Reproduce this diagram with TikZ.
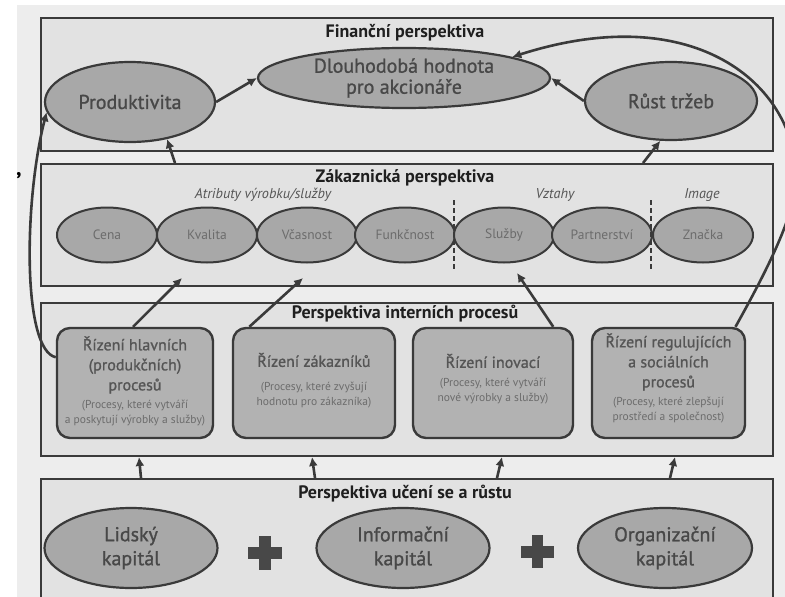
\documentclass[tikz,border=0pt]{standalone}
\usepackage{fontspec}
\setmainfont{PT Sans}
\newfontfamily\heavysans{PT Sans}[FakeBold=1.1]
\usetikzlibrary{arrows.meta,shapes.geometric}

\definecolor{pagebg}{HTML}{EDEDED}
\definecolor{panelbg}{HTML}{E2E2E2}
\definecolor{ink}{HTML}{3A3A3A}
\definecolor{ellfill}{HTML}{A8A8A8}
\definecolor{boxfill}{HTML}{B2B2B2}
\definecolor{txtdark}{HTML}{484848}
\definecolor{txtmid}{HTML}{555555}
\definecolor{txtlight}{HTML}{6C6C6C}

\begin{document}
\begin{tikzpicture}[x=1pt,y=-1pt,
  panel/.style={rectangle, draw=ink, line width=2.2pt, fill=panelbg,
    anchor=north west, inner sep=0pt},
  paneltitle/.style={font=\bfseries\fontsize{18}{20}\selectfont, text=black!88},
  subhead/.style={font=\itshape\fontsize{14.2}{16}\selectfont, text=txtmid},
  bigell/.style={ellipse, draw=ink, line width=2.2pt, fill=ellfill, inner sep=0pt,
    align=center, font=\heavysans\fontsize{20}{21}\selectfont, text=txtdark},
  lgell/.style={bigell, minimum height=80pt, font=\heavysans\fontsize{20}{24}\selectfont},
  smallell/.style={ellipse, draw=ink, line width=2pt, fill=ellfill, inner sep=0pt,
    minimum width=100pt, minimum height=55pt,
    font=\fontsize{13.5}{15}\selectfont, text=txtlight},
  procbox/.style={rectangle, rounded corners=13pt, draw=ink, line width=2.4pt,
    fill=boxfill, minimum height=110pt, inner sep=0pt},
  prochead/.style={align=center, font=\heavysans\fontsize{16}{20}\selectfont, text=txtmid, inner sep=0pt},
  procnote/.style={align=center, font=\fontsize{11.5}{15}\selectfont, text=txtlight, inner sep=0pt},
  flow/.style={draw=ink, line width=2.6pt, -{Latex[length=9pt,width=9pt]}},
  divider/.style={draw=ink, line width=2pt, dash pattern=on 5pt off 3pt},
  plusarm/.style={fill=txtdark, draw=none}
]
\useasboundingbox (0,0) rectangle (785,597);
\clip (0,0) rectangle (785,597);

% sheet
\fill[white] (0,0) rectangle (785,597);
\fill[pagebg] (17,5) rectangle (785,597);
\node[font=\bfseries\fontsize{22}{22}\selectfont, text=black, inner sep=0pt] (mark) at (19,176) {,};

% ---------- four perspective panels ----------
\node[panel, minimum width=732pt, minimum height=133pt] (fin)   at (40,17)  {};
\node[panel, minimum width=732pt, minimum height=122pt] (cust)  at (40,163) {};
\node[panel, minimum width=732pt, minimum height=153pt] (intp)  at (40,302) {};
\node[panel, minimum width=732pt, minimum height=140pt] (learn) at (40,478) {};

\node[paneltitle] (finT)   at (405,33)  {Finanční perspektiva};
\node[paneltitle] (custT)  at (405,178) {Zákaznická perspektiva};
\node[paneltitle] (intT)   at (405,314) {Perspektiva interních procesů};
\node[paneltitle] (learnT) at (405,494) {Perspektiva učení se a růstu};

% ---------- financial perspective ----------
\node[bigell, minimum width=170pt, minimum height=80pt] (prod) at (130,102) {Produktivita};
\node[bigell, minimum width=292pt, minimum height=60pt] (dl)   at (404,78)  {Dlouhodobá hodnota\\pro akcionáře};
\node[bigell, minimum width=172pt, minimum height=78pt] (rust) at (671,101) {Růst tržeb};

\draw[flow] (prod.east) -- (dl.west);
\draw[flow] (rust.west) -- (dl.east);

% ---------- customer perspective ----------
\node[subhead] (attrT) at (263,195) {Atributy výrobku/služby};
\node[subhead] (relT)  at (555,195) {Vztahy};
\node[subhead] (imgT)  at (702,195) {Image};

\node[smallell] (cena)  at (107,235) {Cena};
\node[smallell] (kval)  at (207,235) {Kvalita};
\node[smallell] (vcas)  at (307,235) {Včasnost};
\node[smallell] (funk)  at (405,235) {Funkčnost};
\node[smallell] (sluz)  at (504,235) {Služby};
\node[smallell] (part)  at (602,235) {Partnerství};
\node[smallell] (znac)  at (703,235) {Značka};

\coordinate (divAtop) at (454,200); \coordinate (divAbot) at (454,270);
\coordinate (divBtop) at (651,200); \coordinate (divBbot) at (651,270);
\draw[divider] (divAtop) -- (divAbot);
\draw[divider] (divBtop) -- (divBbot);

% customer -> financial
\coordinate (custL) at (175,163);
\coordinate (custR) at (643,163);
\draw[flow] (custL) -- (prod.-45);
\draw[flow] (custR) -- (rust.-105);

% ---------- internal process perspective ----------
\node[procbox, minimum width=156pt] (p1) at (135,383)   {};
\node[procbox, minimum width=162pt] (p2) at (314,383)   {};
\node[procbox, minimum width=160pt] (p3) at (493,383)   {};
\node[procbox, minimum width=153pt] (p4) at (668.5,383) {};

\node[prochead] (p1h) at (135,365) {Řízení hlavních\\(produkčních)\\procesů};
\node[procnote] (p1n) at (135,413) {(Procesy, které vytváří\\a poskytují výrobky a služby)};

\node[prochead] (p2h) at (314,360) {Řízení zákazníků};
\node[procnote] (p2n) at (314,395) {(Procesy, které zvyšují\\hodnotu pro zákazníka)};

\node[prochead] (p3h) at (493,361) {Řízení inovací};
\node[procnote] (p3n) at (493,391) {(Procesy, které vytváří\\nové výrobky a služby)};

\node[prochead] (p4h) at (668.5,362) {Řízení regulujících\\a sociálních\\procesů};
\node[procnote] (p4n) at (668.5,410) {(Procesy, které zlepšují\\prostředí a společnost)};

% internal -> customer
\coordinate (kvIn) at (182,278);
\coordinate (vcIn) at (303,278);
\coordinate (slIn) at (517,273);
\draw[flow] (p1.92) -- (kvIn);
\draw[flow] (p2.139) -- (vcIn);
\draw[flow] (p3.43) -- (slIn);

% internal -> financial (long bends)
\draw[flow] (p1.162) .. controls (22,350) and (24,200) .. (prod.187);
\draw[flow] (p4.40) .. controls (770,265) and (800,205) .. (796,170)
                     .. controls (790,80) and (690,0) .. (dl.11);

% ---------- learning and growth perspective ----------
\node[lgell, minimum width=173pt] (lid) at (131,548) {Lidský\\kapitál};
\node[lgell, minimum width=173pt] (inf) at (403,548) {Informační\\kapitál};
\node[lgell, minimum width=174pt] (org) at (665,548) {Organizační\\kapitál};

% plus signs
\fill[plusarm] (248,547) rectangle (282,559);
\fill[plusarm] (259,536) rectangle (271,570);
\fill[plusarm] (521,546) rectangle (554,558);
\fill[plusarm] (532,535) rectangle (543,568);

% learning -> internal
\coordinate (l1) at (141,478); \coordinate (i1) at (139,457);
\coordinate (l2) at (315,478); \coordinate (i2) at (312,457);
\coordinate (l3) at (497,478); \coordinate (i3) at (502,457);
\coordinate (l4) at (670,478); \coordinate (i4) at (675,457);
\draw[flow] (l1) -- (i1);
\draw[flow] (l2) -- (i2);
\draw[flow] (l3) -- (i3);
\draw[flow] (l4) -- (i4);
\end{tikzpicture}
\end{document}
